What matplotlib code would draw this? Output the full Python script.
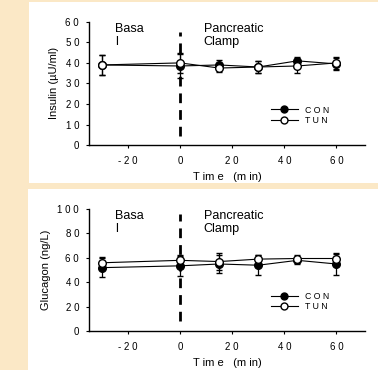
import matplotlib
matplotlib.use("Agg")
import matplotlib.pyplot as plt
from matplotlib.patches import Rectangle
from matplotlib.lines import Line2D

plt.rcParams['font.family'] = ['Liberation Sans', 'DejaVu Sans']

time_pts = [-30, 0, 15, 30, 45, 60]

ins_con = [39, 38.5, 39, 38, 41, 39.5]
ins_con_err = [5, 6, 2.5, 3, 2, 3]
ins_tun = [39, 40, 37.5, 38, 38.5, 40]
ins_tun_err = [5, 5, 2, 3, 3.5, 3]

glu_con = [52, 53.5, 55, 54, 58, 55]
glu_con_err = [8, 8, 7, 8, 3, 9]
glu_tun = [56, 58, 57, 59, 59.5, 59.5]
glu_tun_err = [5, 4, 7, 3.5, 3, 4]

x_ticks = [-20, 0, 20, 40, 60]
x_labels = ['- 2 0', '0', '2 0', '4 0', '6 0']

fig = plt.figure(figsize=(3.78, 3.70), dpi=100)
fig.patch.set_facecolor('#FBE8C6')
# white panels behind each chart
fig.patches.append(Rectangle((0.077, 0.505), 0.93, 0.49, transform=fig.transFigure,
                             facecolor='white', edgecolor='none', zorder=-5))
fig.patches.append(Rectangle((0.074, 0.0), 0.93, 0.489, transform=fig.transFigure,
                             facecolor='white', edgecolor='none', zorder=-5))


def panel(rect, con, con_err, tun, tun_err, ymax, ystep, ylabel, dash):
    ax = fig.add_axes(rect)
    ax.set_facecolor('none')
    ax.errorbar(time_pts, con, yerr=con_err, color='black', lw=0.8, marker='o',
                ms=5.5, mfc='black', mec='black', capsize=2.5, elinewidth=0.9,
                zorder=3)
    ax.errorbar(time_pts, tun, yerr=tun_err, color='black', lw=0.8, marker='o',
                ms=5.5, mfc='white', mec='black', capsize=2.5, elinewidth=0.9,
                zorder=4)
    ax.plot([0, 0], dash, color='black', lw=2, ls=(0, (3.5, 2.5)), zorder=2)
    ax.set_xlim(-35, 71)
    ax.set_ylim(0, ymax)
    yt = list(range(0, ymax + 1, ystep))
    ax.set_yticks(yt)
    ax.set_yticklabels([' '.join(str(v)) for v in yt])
    ax.set_xticks(x_ticks)
    ax.set_xticklabels(x_labels)
    ax.tick_params(labelsize=7, length=2, width=0.8, pad=6)
    ax.tick_params(axis='y', pad=5)
    for s in ['top', 'right']:
        ax.spines[s].set_visible(False)
    for s in ['left', 'bottom']:
        ax.spines[s].set_linewidth(1.0)
    ax.set_xlabel('T im e   (m in)', fontsize=8, labelpad=4)
    ax.set_ylabel(ylabel, fontsize=8, labelpad=5)
    ax.text(-25, ymax * 0.99, 'Basa\nl', fontsize=9, va='top', ha='left',
            linespacing=1.1)
    ax.text(9, ymax * 0.99, 'Pancreatic\nClamp', fontsize=9, va='top',
            ha='left', linespacing=1.1)
    handles = [Line2D([], [], color='black', lw=0.8, marker='o', ms=5,
                      mfc='black', mec='black'),
               Line2D([], [], color='black', lw=0.8, marker='o', ms=5,
                      mfc='white', mec='black')]
    ax.legend(handles, ['C O N', 'T U N'], loc='lower right',
              bbox_to_anchor=(0.9, 0.1), frameon=False, fontsize=6.3,
              handlelength=3.0, labelspacing=0.15, handletextpad=0.9)
    return ax


panel([0.235, 0.608, 0.731, 0.333], ins_con, ins_con_err, ins_tun, ins_tun_err,
      60, 10, 'Insulin (\u00b5U/ml)', [4.5, 55])
panel([0.235, 0.105, 0.731, 0.330], glu_con, glu_con_err, glu_tun, glu_tun_err,
      100, 20, 'Glucagon (ng/L)', [8, 96])

fig.savefig('out.png', dpi=100, facecolor=fig.get_facecolor())
